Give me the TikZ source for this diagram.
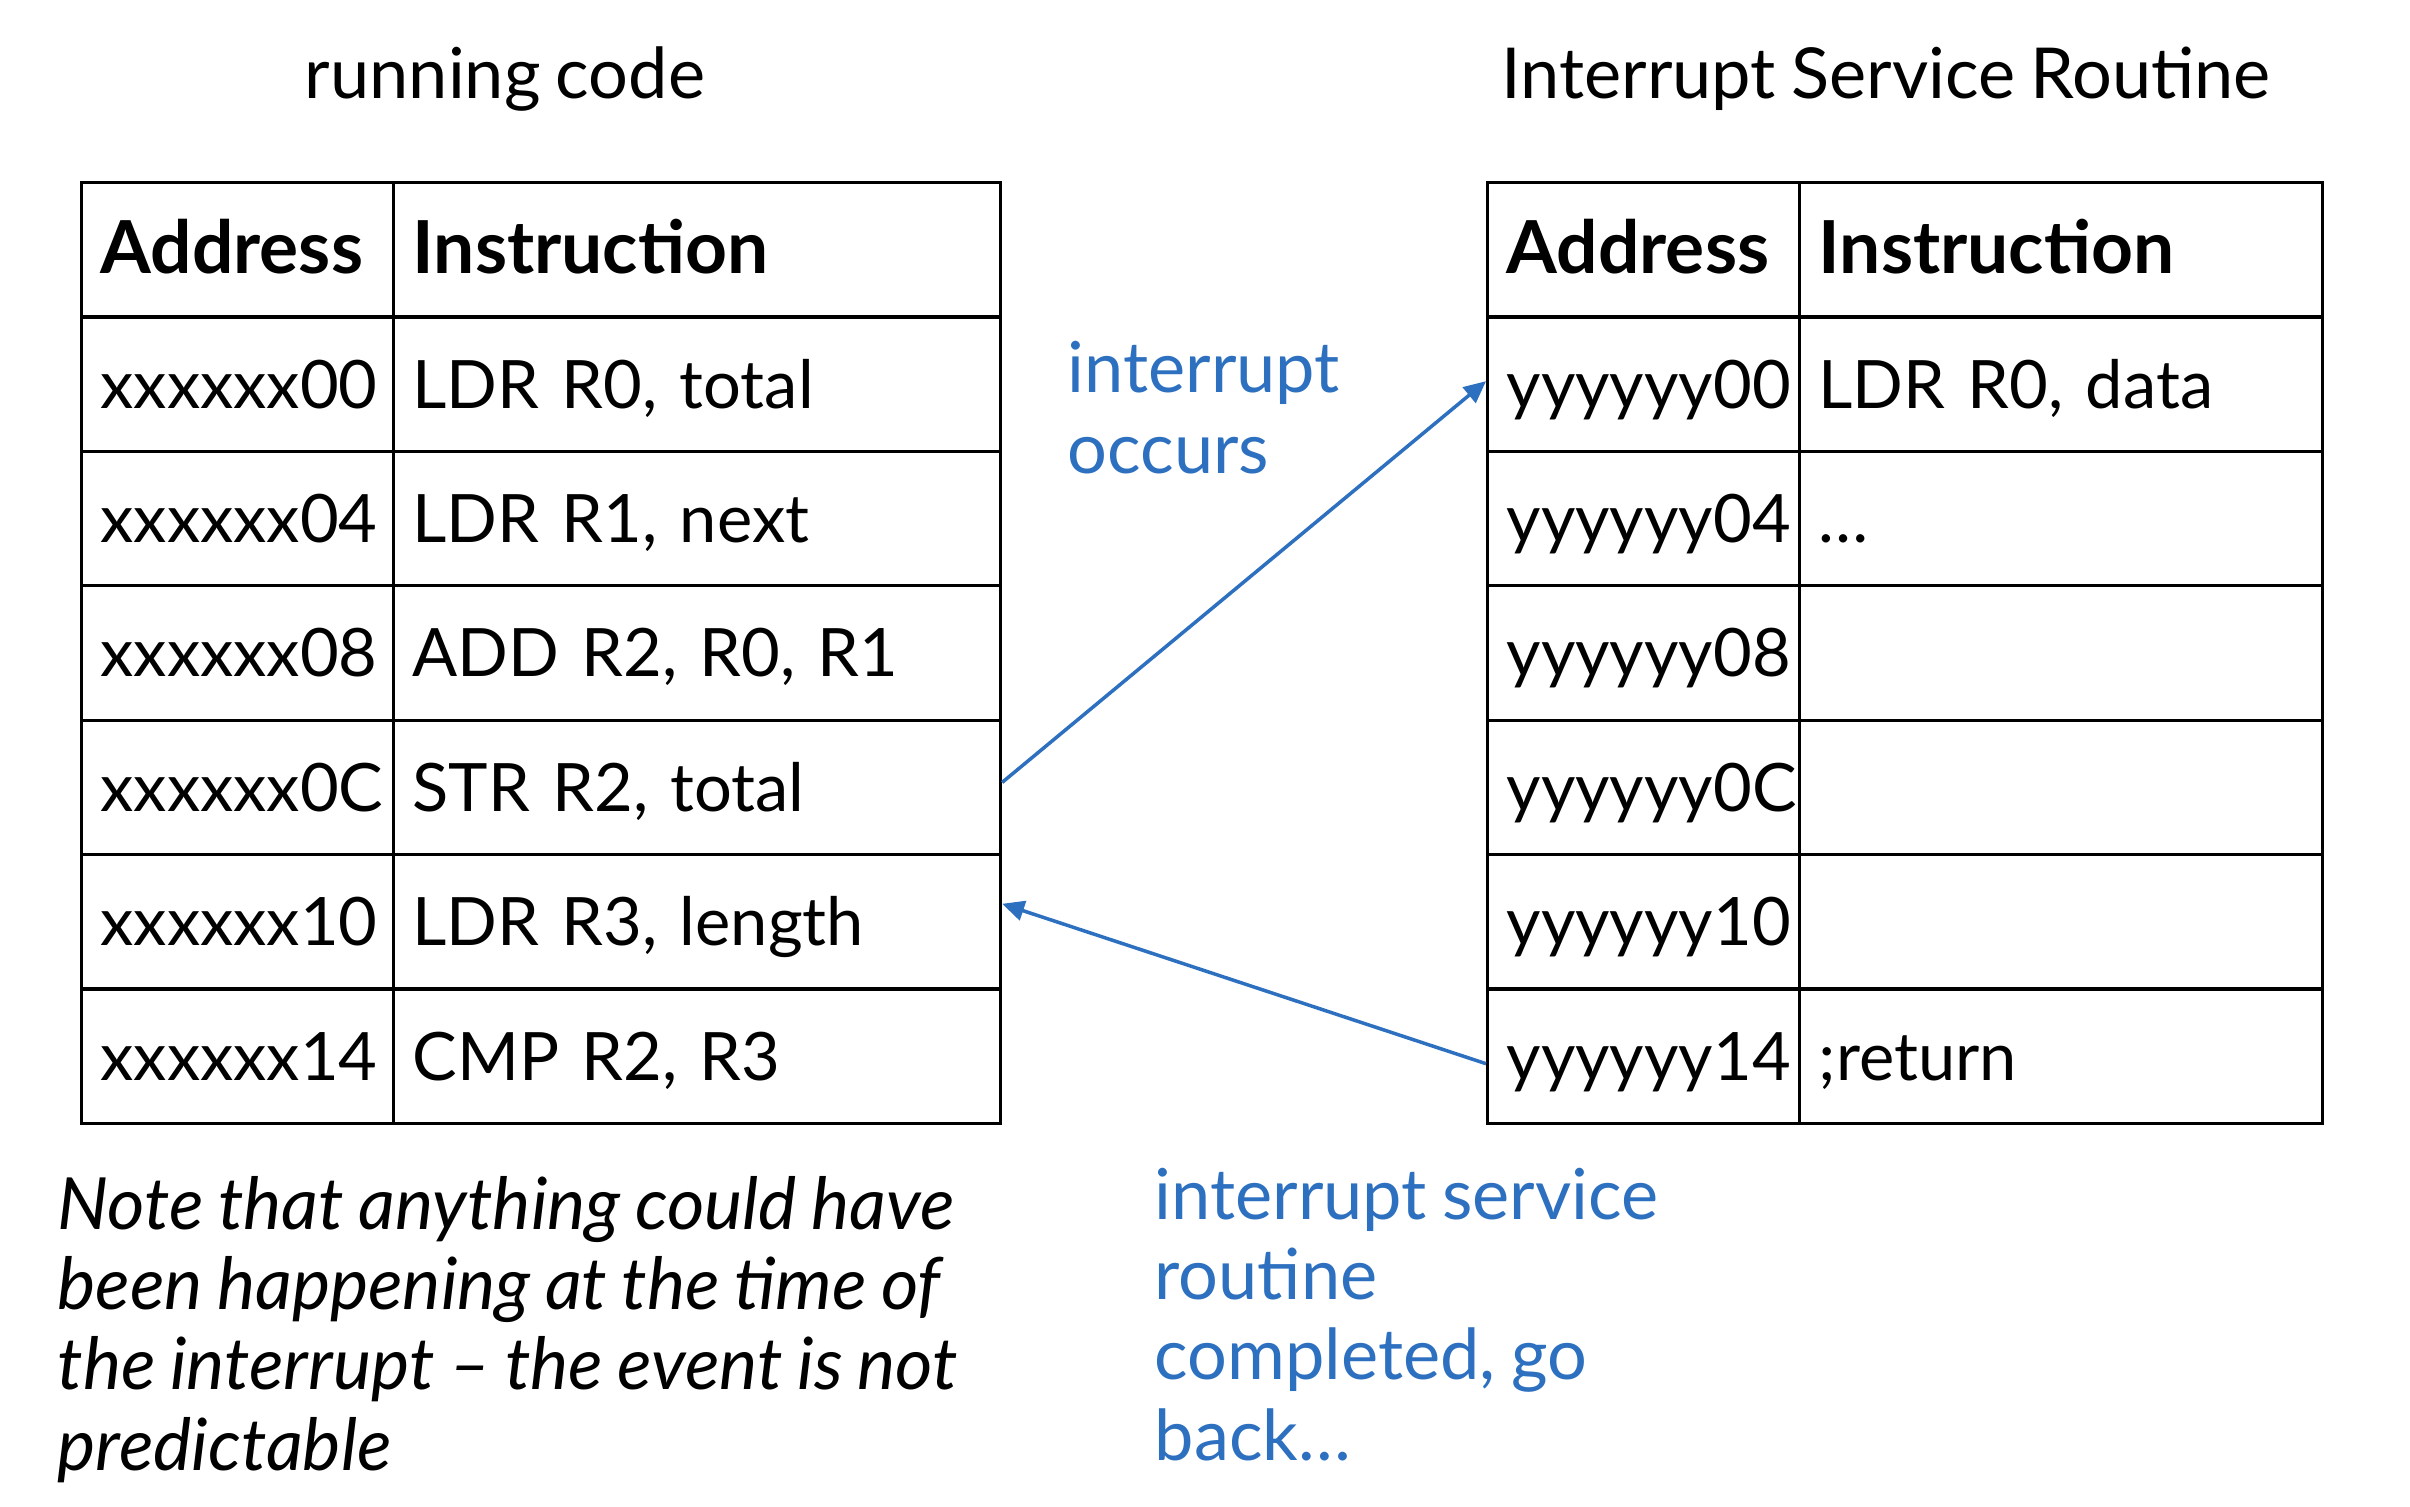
\documentclass[tikz,border=0pt]{standalone}
\usepackage{fontspec}
\setmainfont{Lato}[WordSpace=0.85]
\usetikzlibrary{arrows.meta}

\definecolor{isrblue}{RGB}{46,112,192}

\tikzset{
  cell/.style={draw, line width=0.9pt, anchor=north west, inner xsep=0.19cm, inner ysep=0pt,
    minimum height=1.344cm, text height=17pt, text depth=3.4pt, align=left,
    font=\fontsize{19}{23}\selectfont},
  head/.style={cell, font=\fontsize{20.8}{24}\selectfont\bfseries},
  title/.style={anchor=base, inner sep=0pt, font=\fontsize{20}{24}\selectfont},
  remark/.style={anchor=base west, align=left, inner sep=0pt, font=\fontsize{20}{22.8}\selectfont},
  jump/.style={isrblue, line width=1pt, -{Triangle[length=0.22cm, width=0.2cm]}},
}

\begin{document}
\begin{tikzpicture}
  \useasboundingbox (0,0) rectangle (24.1,-15.06);

  % titles
  \node[title] (run-title) at (5.05,-0.98) {running code};
  \node[title] (isr-title) at (18.86,-0.98) {Interrupt Service Routine};

  % running code table
  \node[head, text width=2.74cm] (L-a0) at (0.80,-1.81) {Address};
  \node[head, text width=5.69cm] (L-i0) at (3.92,-1.81) {Instruction};
  \foreach \addr/\instr [count=\r] in {xxxxxx00/{LDR R0, total}, xxxxxx04/{LDR R1, next},
      xxxxxx08/{ADD R2, R0, R1}, xxxxxx0C/{STR R2, total}, xxxxxx10/{LDR R3, length},
      xxxxxx14/{CMP R2, R3}} {
    \node[cell, text width=2.74cm] (L-a\r) at (0.80,-1.81-1.344*\r) {\addr};
    \node[cell, text width=5.69cm] (L-i\r) at (3.92,-1.81-1.344*\r) {\instr};
  }

  % ISR table
  \node[head, text width=2.74cm] (R-a0) at (14.86,-1.81) {Address};
  \node[head, text width=4.85cm] (R-i0) at (17.98,-1.81) {Instruction};
  \foreach \addr/\instr [count=\r] in {yyyyyy00/{LDR R0, data}, yyyyyy04/{…},
      yyyyyy08/{}, yyyyyy0C/{}, yyyyyy10/{}, yyyyyy14/{;return}} {
    \node[cell, text width=2.74cm] (R-a\r) at (14.86,-1.81-1.344*\r) {\addr};
    \node[cell, text width=4.85cm] (R-i\r) at (17.98,-1.81-1.344*\r) {\instr};
  }

  % labels (base = last line)
  \node[remark, text=isrblue] (occurs) at (10.67,-4.73) {interrupt\\occurs};
  \node[remark, text=isrblue] (back) at (11.54,-14.60) {interrupt service\\routine\\completed, go\\back…};
  \node[remark, font=\fontsize{20.5}{22.8}\selectfont\itshape] (note) at (0.57,-14.70)
    {Note that anything could have\\been happening at the time of\\the interrupt – the event is not\\predictable};

  % jumps
  \draw[jump] ([yshift=0.05cm]L-i4.east) -- ([yshift=0.03cm]R-a1.west);
  \draw[jump] ([yshift=-0.075cm]R-a6.west) -- ([yshift=0.18cm]L-i5.east);
\end{tikzpicture}
\end{document}
